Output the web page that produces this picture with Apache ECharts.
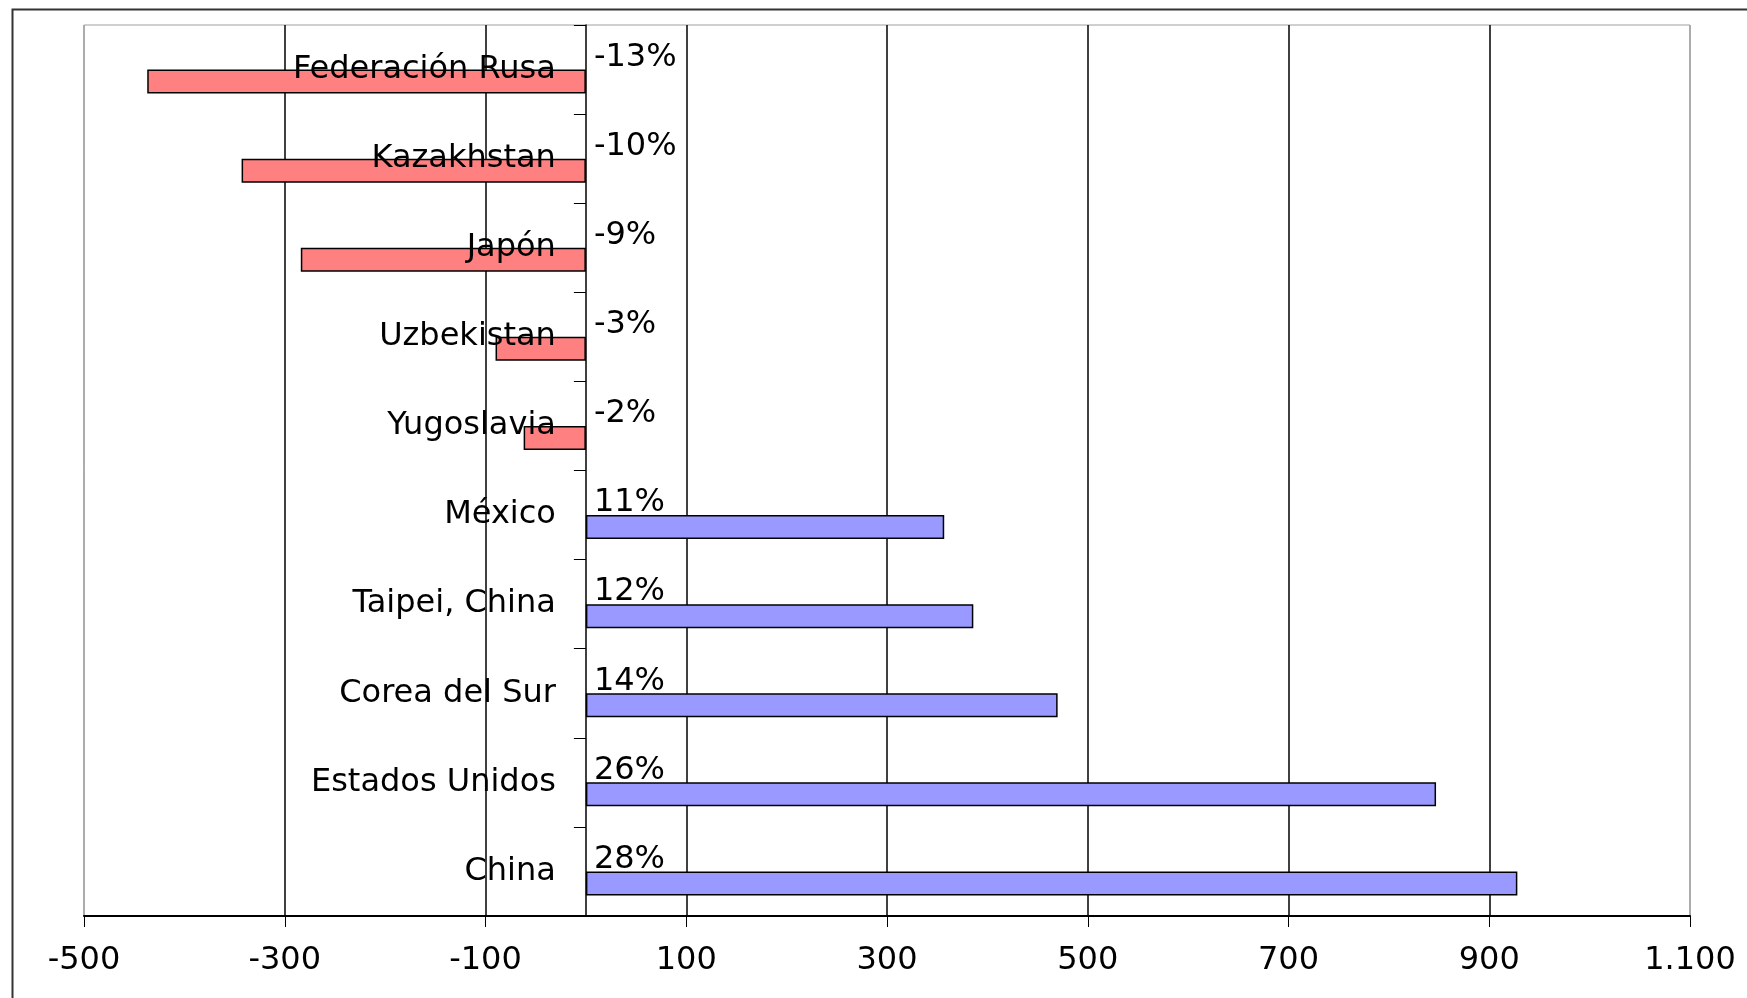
<!DOCTYPE html>
<html>
<head>
<meta charset="utf-8">
<script src="https://cdn.jsdelivr.net/npm/echarts@6/dist/echarts.min.js"></script>
<style>
html,body{margin:0;padding:0;background:#fff;}
#chart{width:1747px;height:998px;}
</style>
</head>
<body>
<div id="chart"></div>
<script>
var categories = ['Federación Rusa','Kazakhstan','Japón','Uzbekistan','Yugoslavia','México','Taipei, China','Corea del Sur','Estados Unidos','China'];
var values = [-437,-343,-284,-90,-62,357,386,470,847,928];
var pctLabels = ['-13%','-10%','-9%','-3%','-2%','11%','12%','14%','26%','28%'];
var xTickValues = [-500,-300,-100,100,300,500,700,900,1100];
var xTickLabels = ['-500','-300','-100','100','300','500','700','900','1.100'];

var FONT = 'DejaVu Sans';
var FS = 32;
var chart = echarts.init(document.getElementById('chart'));
var option = {
  animation: false,
  backgroundColor: '#fff',
  textStyle: {fontFamily: FONT},
  graphic: [{
    type: 'rect', left: 10, top: 7, z: -10, silent: true,
    shape: {x: 0, y: 0, width: 1800, height: 1100},
    style: {fill: 'none', stroke: '#333', lineWidth: 2}
  }],
  grid: {
    left: 84, right: 57, top: 25, bottom: 82,
    containLabel: false, outerBoundsMode: 'none',
    show: true, borderColor: '#a0a0a0', borderWidth: 1, backgroundColor: 'transparent'
  },
  xAxis: {
    type: 'value', min: -500, max: 1100, interval: 200,
    axisLine: {show: true, lineStyle: {color: '#000', width: 2}},
    axisTick: {show: true, length: 11, lineStyle: {color: '#000', width: 1}},
    axisLabel: {
      margin: 29, color: '#000', fontSize: FS, fontFamily: FONT,
      formatter: function (v) {
        var i = xTickValues.indexOf(v);
        return i >= 0 ? xTickLabels[i] : '';
      }
    },
    splitLine: {show: true, lineStyle: {color: ['#a0a0a0','#000','#000','#000','#000','#000','#000','#000','#a0a0a0'], width: 1.5}}
  },
  yAxis: {
    type: 'category', inverse: true, data: categories, z: 10, position: 'left', offset: 0,
    axisLine: {show: true, onZero: false, lineStyle: {color: '#000', width: 1.5}},
    axisTick: {show: true, length: 12, lineStyle: {color: '#000', width: 1}},
    axisLabel: {margin: 30, color: '#000', fontSize: FS, fontFamily: FONT},
    splitLine: {show: false}
  },
  series: [
    {
      name: 'pct', type: 'bar', barWidth: 24, barGap: '0%',
      data: values.map(function () { return 0; }),
      itemStyle: {color: 'rgba(0,0,0,0)'},
      label: {
        show: true, position: 'right', distance: 8, color: '#000',
        fontSize: FS, fontFamily: FONT,
        formatter: function (p) { return pctLabels[p.dataIndex]; }
      },
      z: 5
    },
    {
      name: 'valor', type: 'bar', barWidth: 24, barGap: '0%',
      data: values,
      itemStyle: {
        color: function (p) { return p.value < 0 ? '#FF8080' : '#9999FF'; },
        borderColor: '#000', borderWidth: 1.5
      }
    }
  ]
};
chart.setOption(option);
// move the category axis (line, ticks, labels) to x = 0 of the value axis
var zeroX = chart.convertToPixel({xAxisIndex: 0}, 0);
var minX = chart.convertToPixel({xAxisIndex: 0}, xTickValues[0]);
chart.setOption({yAxis: {offset: minX - zeroX}});
</script>
</body>
</html>
